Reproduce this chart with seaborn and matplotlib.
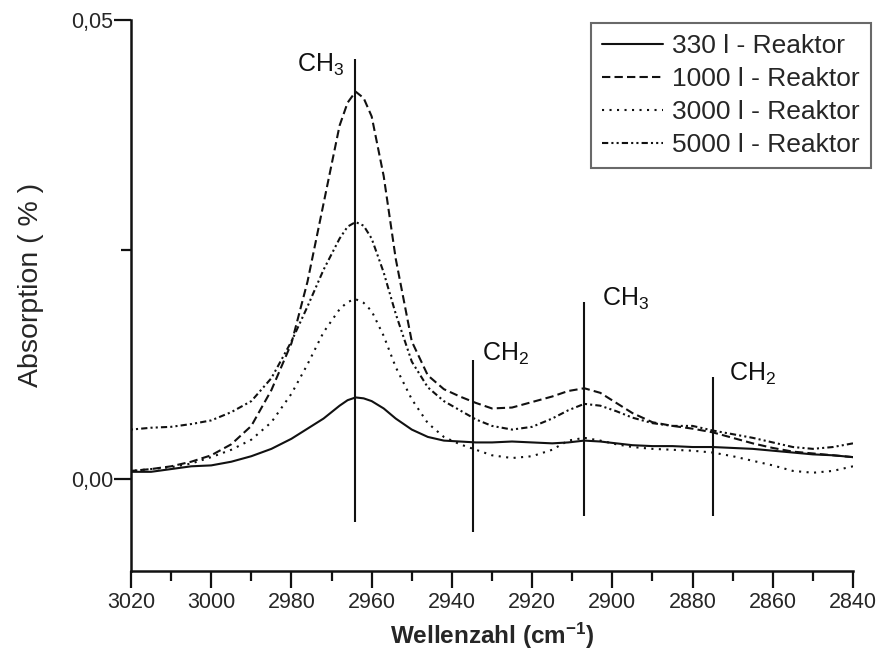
import numpy as np
import pandas as pd
import matplotlib
matplotlib.use("Agg")
import matplotlib.pyplot as plt
import seaborn as sns
from matplotlib.ticker import FixedLocator, FixedFormatter

# wellenzahl (cm-1)
wellenzahl = [3020, 3015, 3010, 3005, 3000, 2995, 2990, 2985, 2980, 2976, 2972,
              2968, 2966, 2964, 2962, 2960, 2957, 2954, 2950, 2946, 2942, 2938,
              2934, 2930, 2925, 2920, 2915, 2911, 2907, 2903, 2899, 2895, 2890,
              2885, 2880, 2875, 2870, 2865, 2860, 2855, 2850, 2845, 2840]

# absorption per reaktor
abs_330 = [0.0008, 0.0008, 0.0011, 0.0014, 0.0015, 0.0019, 0.0025, 0.0033, 0.0044, 0.0055, 0.0066,
           0.0080, 0.0086, 0.0089, 0.0088, 0.0085, 0.0077, 0.0066, 0.0054, 0.0046, 0.0042, 0.0041,
           0.0040, 0.0040, 0.0041, 0.0040, 0.0039, 0.0040, 0.0042, 0.0041, 0.0039, 0.0037, 0.0036,
           0.0036, 0.0035, 0.0035, 0.0034, 0.0033, 0.0031, 0.0029, 0.0027, 0.0026, 0.0024]
abs_1000 = [0.0009, 0.0011, 0.0014, 0.0019, 0.0026, 0.0038, 0.0058, 0.0097, 0.0148, 0.0215, 0.0300,
            0.0385, 0.0410, 0.0422, 0.0415, 0.0395, 0.0330, 0.0240, 0.0150, 0.0113, 0.0098, 0.0090,
            0.0083, 0.0077, 0.0078, 0.0084, 0.0090, 0.0096, 0.0099, 0.0094, 0.0083, 0.0072, 0.0062,
            0.0058, 0.0055, 0.0051, 0.0045, 0.0039, 0.0034, 0.0030, 0.0028, 0.0026, 0.0024]
abs_3000 = [0.0009, 0.0011, 0.0013, 0.0017, 0.0024, 0.0032, 0.0043, 0.0062, 0.0093, 0.0125, 0.0160,
            0.0185, 0.0193, 0.0196, 0.0192, 0.0183, 0.0156, 0.0122, 0.0087, 0.0061, 0.0046, 0.0038,
            0.0032, 0.0026, 0.0023, 0.0025, 0.0032, 0.0042, 0.0045, 0.0042, 0.0038, 0.0035, 0.0033,
            0.0032, 0.0031, 0.0029, 0.0025, 0.0020, 0.0015, 0.0009, 0.0007, 0.0009, 0.0014]
abs_5000 = [0.0054, 0.0056, 0.0057, 0.0060, 0.0064, 0.0073, 0.0085, 0.0110, 0.0150, 0.0188, 0.0228,
            0.0262, 0.0275, 0.0280, 0.0276, 0.0262, 0.0225, 0.0180, 0.0128, 0.0100, 0.0085, 0.0075,
            0.0065, 0.0058, 0.0054, 0.0057, 0.0066, 0.0075, 0.0082, 0.0080, 0.0074, 0.0067, 0.0061,
            0.0058, 0.0058, 0.0053, 0.0049, 0.0045, 0.0040, 0.0035, 0.0033, 0.0035, 0.0039]

reaktoren = ["330 l - Reaktor", "1000 l - Reaktor", "3000 l - Reaktor", "5000 l - Reaktor"]

# banden (CH3 / CH2 markierungen)
banden_pos = [2964.2, 2934.8, 2907.1, 2875.0]
banden_top = [0.0458, 0.0130, 0.0193, 0.0111]
banden_bottom = [-0.0047, -0.0058, -0.0040, -0.0040]
banden_label = ["CH$_3$", "CH$_2$", "CH$_3$", "CH$_2$"]
label_x = [2978.6, 2932.4, 2902.6, 2870.9]
label_y = [0.0444, 0.0129, 0.0189, 0.0107]

yticks = [0.0, 0.05]

df = pd.DataFrame({
    "x": wellenzahl * 4,
    "y": abs_330 + abs_1000 + abs_3000 + abs_5000,
    "reaktor": sum([[r] * len(wellenzahl) for r in reaktoren], []),
})

sns.set_style("ticks")
plt.rcParams["font.family"] = ["Liberation Sans", "DejaVu Sans"]
plt.rcParams["mathtext.fontset"] = "custom"
plt.rcParams["mathtext.rm"] = "Liberation Sans"
plt.rcParams["mathtext.it"] = "Liberation Sans:italic"
plt.rcParams["mathtext.bf"] = "Liberation Sans:bold"

fig = plt.figure(figsize=(8.81, 6.61), dpi=100)
ax = fig.add_axes([131 / 881, 1 - 571 / 661, 722 / 881, 551 / 661])

dashes = {
    reaktoren[0]: "",
    reaktoren[1]: (4, 2),
    reaktoren[2]: (1, 2.6),
    reaktoren[3]: (3, 1.5, 1, 1.5, 1, 1.5),
}
sns.lineplot(data=df, x="x", y="y", style="reaktor", style_order=reaktoren,
             dashes=dashes, color="#111111", linewidth=1.5, ax=ax, legend=True)

# vertikale linien fuer banden
ax.vlines(banden_pos, banden_bottom, banden_top, color="#111111", linewidth=1.5)
for bx, by, lab in zip(label_x, label_y, banden_label):
    ax.text(bx, by, lab, fontsize=18, ha="left", va="baseline", color="#111111")

ax.set_xlim(3020, 2840)
ax.set_ylim(-0.01, 0.05)
ax.xaxis.set_major_locator(FixedLocator(np.arange(3020, 2839, -20)))
ax.xaxis.set_minor_locator(FixedLocator(np.arange(3010, 2840, -20)))
ax.yaxis.set_major_locator(FixedLocator(yticks))
ax.yaxis.set_major_formatter(FixedFormatter([f"{v:.2f}".replace(".", ",") for v in yticks]))
ax.yaxis.set_minor_locator(FixedLocator([0.025]))

ax.tick_params(axis="both", which="major", direction="out", length=12, width=1.6,
               labelsize=15.5, color="#111111")
ax.tick_params(axis="both", which="minor", direction="out", length=7, width=1.6, color="#111111")
ax.tick_params(axis="x", which="major", pad=3)
ax.tick_params(axis="y", which="major", pad=1)

for s in ["top", "right"]:
    ax.spines[s].set_visible(False)
for s in ["left", "bottom"]:
    ax.spines[s].set_linewidth(1.8)
    ax.spines[s].set_color("#111111")

ax.set_xlabel("Wellenzahl (cm$^{\\mathregular{-1}}$)", fontsize=17.5, fontweight="bold")
ax.xaxis.set_label_coords(0.5, -0.091)
ax.set_ylabel("Absorption ( % )", fontsize=20.5)
ax.yaxis.set_label_coords(-0.121, 0.519)

handles, labels = ax.get_legend_handles_labels()
leg = ax.legend(handles, labels, loc="upper right", bbox_to_anchor=(871 / 881, 1 - 23 / 661),
                bbox_transform=fig.transFigure, borderaxespad=0, fontsize=19,
                frameon=True, fancybox=False, handlelength=2.3, handletextpad=0.35,
                labelspacing=0.34, borderpad=0.42)
leg.get_frame().set_edgecolor("#444444")
leg.get_frame().set_linewidth(1.5)
for ln in leg.get_lines():
    ln.set_linewidth(1.5)

fig.savefig("out.png", dpi=100)
